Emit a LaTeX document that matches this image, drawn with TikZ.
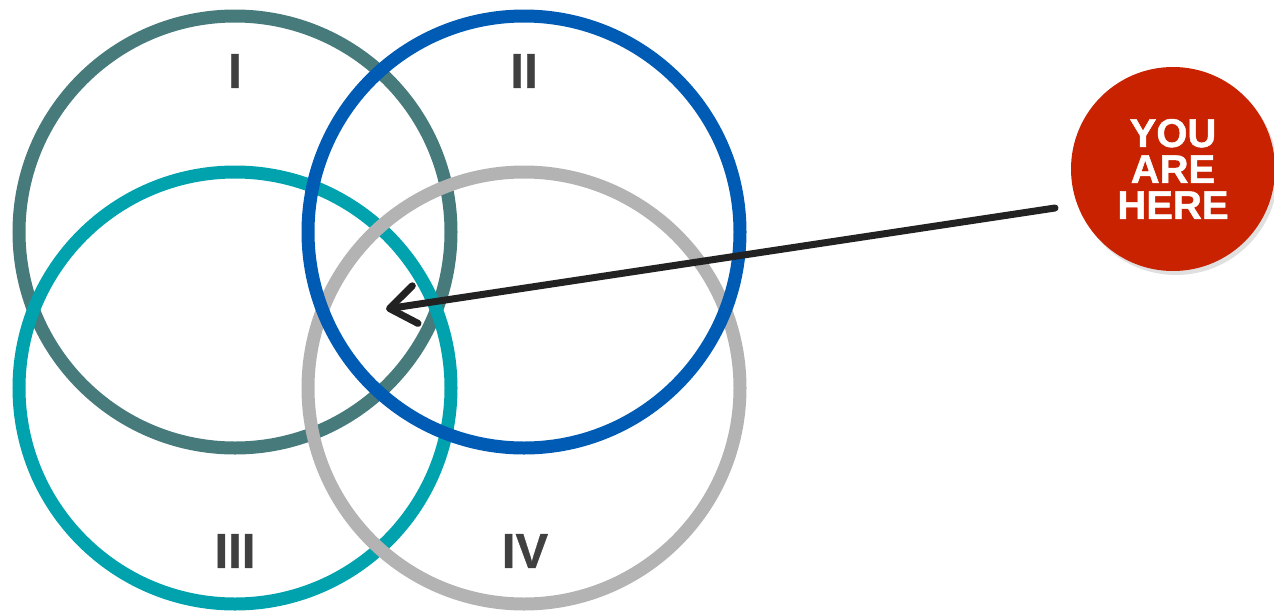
\documentclass[tikz,border=0pt]{standalone}
\usepackage{fontspec}
\setmainfont{Liberation Sans}
\usetikzlibrary{arrows.meta}
\definecolor{cI}{HTML}{477A7B}
\definecolor{cII}{HTML}{005BB5}
\definecolor{cIII}{HTML}{00A3AD}
\definecolor{cIV}{HTML}{B3B3B3}
\definecolor{cred}{HTML}{C82200}
\definecolor{clabel}{HTML}{404040}
\definecolor{carrow}{HTML}{222222}
\tikzset{
  ring/.style={line width=13pt, draw=#1, fill=none},
  lbl/.style={text=clabel, font=\fontsize{49}{49}\selectfont\bfseries\addfontfeature{FakeBold=0.6}, inner sep=0pt, anchor=center},
  badge/.style={circle, fill=cred, minimum size=204pt, inner sep=0pt, text=white,
    align=center, font=\fontsize{40}{36}\selectfont\bfseries\addfontfeature{FakeBold=1.2}},
  pointer/.style={draw=carrow, line width=7pt, line cap=round,
    -{Straight Barb[length=26pt, width=38pt, line width=7pt, line cap=round, line join=round]}}
}
\begin{document}
\begin{tikzpicture}[x=1pt, y=-1pt]
\useasboundingbox (0,0) rectangle (1274,611);
% circles
\draw[ring=cI]   (235,232) circle[radius=216];
\draw[ring=cIII] (235,388) circle[radius=216];
\draw[ring=cIV]  (524,388) circle[radius=216];
\draw[ring=cII]  (524,232) circle[radius=216];
% labels
\node[lbl] (lI)   at (235,71)  {I};
\node[lbl] (lII)  at (524,71)  {II};
\node[lbl] (lIII) at (235,551) {III};
\node[lbl] (lIV)  at (525,551) {IV};
% badge with soft shadow
\fill[black, opacity=0.12] (1176,173) circle[radius=102];
\node[badge] (here) at (1173,169) {YOU\\ARE\\HERE};
\coordinate (target) at (386,309);
\coordinate (start) at (1055,208);
\draw[pointer] (start) -- (target);
\end{tikzpicture}
\end{document}
